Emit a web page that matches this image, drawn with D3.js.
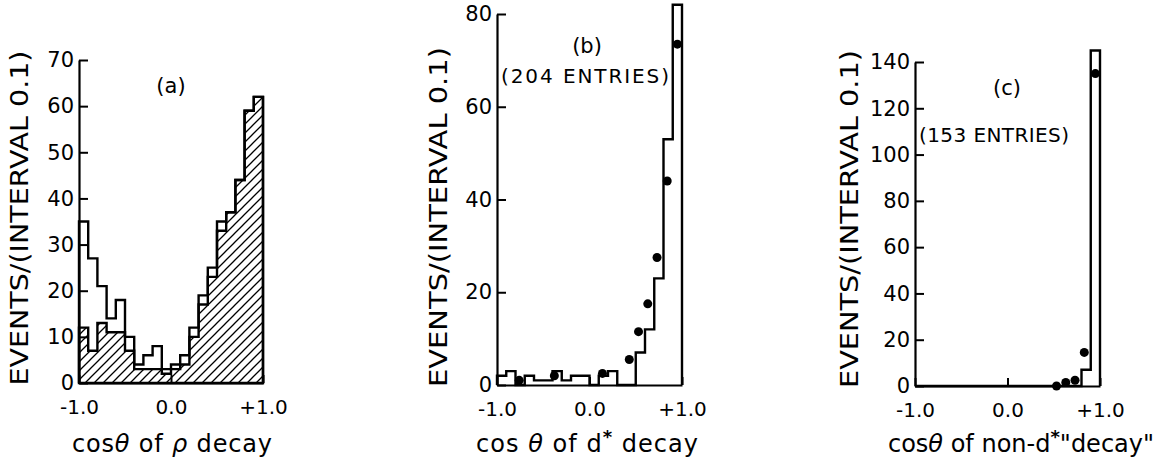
<!DOCTYPE html>
<html>
<head>
<meta charset="utf-8">
<script src="https://cdn.jsdelivr.net/npm/d3@7"></script>
<style>
  body { margin: 0; background: #fff; }
  svg { display: block; }
  text { font-family: "DejaVu Sans", sans-serif; fill: #000; }
</style>
</head>
<body>
<svg id="chart" width="1173" height="458"></svg>
<script>
// bin lower edges, width 0.1
const binLo = [-1.0, -0.9, -0.8, -0.7, -0.6, -0.5, -0.4, -0.3, -0.2, -0.1,
               0.0, 0.1, 0.2, 0.3, 0.4, 0.5, 0.6, 0.7, 0.8, 0.9];

// (a) rho decay: all events and hatched subset
const rhoAll     = [35, 27, 21, 14, 18, 10, 4, 6, 8, 3, 4, 6, 12, 19, 25, 35, 37, 44, 59, 62];
const rhoHatched = [12, 7, 13, 11, 11, 7, 3, 3, 3, 2, 3, 4, 10, 17, 23, 33, 37, 44, 59, 62];

// (b) d* decay
const dstarHist = [2, 3, 0, 2, 1, 1, 3, 1, 2, 2, 0, 2, 3, 0, 0, 7, 12, 23, 53, 82];
const dstarDotsX = [-0.76, -0.38, 0.14, 0.43, 0.53, 0.63, 0.73, 0.84, 0.95];
const dstarDotsY = [1, 2, 2.5, 5.5, 11.5, 17.5, 27.5, 44, 73.5];

// (c) non-d* "decay"
const nonHist = [0, 0, 0, 0, 0, 0, 0, 0, 0, 0, 0, 0, 0, 0, 0, 0, 0, 0, 7, 145];
const nonDotsX = [0.53, 0.63, 0.73, 0.83, 0.95];
const nonDotsY = [0, 1.5, 2.5, 14.5, 135];

const xTicks = [-1, 0, 1];
const xTickLabels = ['-1.0', '0.0', '+1.0'];
const yLabel = 'EVENTS/(INTERVAL 0.1)';

const svg = d3.select('#chart');

// hatch pattern for panel (a)
svg.append('defs').append('pattern')
    .attr('id', 'hatch')
    .attr('patternUnits', 'userSpaceOnUse')
    .attr('width', 9).attr('height', 9)
    .append('path')
    .attr('d', 'M-2,2 L2,-2 M0,9 L9,0 M7,11 L11,7')
    .attr('stroke', '#000')
    .attr('stroke-width', 1.3);

function stepPoints(values) {
    const pts = [[-1, 0]];
    values.forEach((v, i) => pts.push([binLo[i], v]));
    pts.push([1, values[values.length - 1]]);
    pts.push([1, 0]);
    return pts;
}

function drawPanel(opt) {
    const x = d3.scaleLinear().domain([-1, 1]).range([opt.left, opt.right]);
    const y = d3.scaleLinear().domain([0, opt.yMax]).range([opt.bottom, opt.top]);
    const g = svg.append('g');

    // hatched area
    if (opt.hatched) {
        const area = d3.area()
            .x(d => x(d[0])).y0(y(0)).y1(d => y(d[1]))
            .curve(d3.curveStepAfter);
        g.append('path')
            .attr('d', area(stepPoints(opt.hatched)))
            .attr('fill', 'url(#hatch)')
            .attr('stroke', '#000')
            .attr('stroke-width', 2.4);
    }

    const line = d3.line()
        .x(d => x(d[0])).y(d => y(d[1]))
        .curve(d3.curveStepAfter);
    g.append('path')
        .attr('d', line(stepPoints(opt.hist)))
        .attr('fill', 'none')
        .attr('stroke', '#000')
        .attr('stroke-width', 2.4);

    // axes
    const yAxis = d3.axisLeft(y)
        .tickValues(d3.range(0, opt.yMax + 1, opt.yStep))
        .tickSizeInner(-9).tickSizeOuter(0).tickPadding(5);
    const ya = g.append('g').attr('transform', `translate(${opt.left},0)`).call(yAxis);
    ya.selectAll('text').attr('font-size', 21).attr('font-family', 'DejaVu Sans');

    const xAxis = d3.axisBottom(x)
        .tickValues(xTicks)
        .tickFormat((d, i) => xTickLabels[i])
        .tickSizeInner(-8).tickSizeOuter(0).tickPadding(17);
    const xa = g.append('g').attr('transform', `translate(0,${opt.bottom})`).call(xAxis);
    xa.selectAll('text').attr('font-size', 20).attr('font-family', 'DejaVu Sans');

    svg.selectAll('.domain').attr('stroke-width', 2.2);
    svg.selectAll('.tick line').attr('stroke-width', 2);

    // dots
    if (opt.dotsX) {
        g.selectAll('circle')
            .data(opt.dotsX.map((d, i) => [d, opt.dotsY[i]]))
            .enter().append('circle')
            .attr('cx', d => x(d[0]))
            .attr('cy', d => y(d[1]))
            .attr('r', 4.5)
            .attr('fill', '#000');
    }

    // rotated y label
    g.append('text')
        .attr('transform', `translate(${opt.yLabelX},${opt.yLabelMid}) rotate(-90)`)
        .attr('text-anchor', 'middle')
        .attr('dy', '0.36em')
        .attr('font-size', 25)
        .attr('textLength', opt.yLabelLen)
        .attr('lengthAdjust', 'spacingAndGlyphs')
        .text(yLabel);

    // panel letter and entries
    g.append('text')
        .attr('x', opt.tagX).attr('y', opt.tagY)
        .attr('text-anchor', 'middle')
        .attr('font-size', 21)
        .text(opt.tag);
    if (opt.entries) {
        g.append('text')
            .attr('x', opt.entriesX).attr('y', opt.entriesY)
            .attr('text-anchor', 'middle')
            .attr('font-size', 20)
            .attr('textLength', opt.entriesLen)
            .attr('lengthAdjust', 'spacing')
            .text(opt.entries);
    }

    // x title
    const t = g.append('text')
        .attr('x', opt.titleX).attr('y', 452)
        .attr('text-anchor', 'middle')
        .attr('font-size', 24);
    if (opt.titleLen) t.attr('textLength', opt.titleLen).attr('lengthAdjust', 'spacing');
    opt.title(t);
}

drawPanel({
    left: 79, right: 263, top: 60, bottom: 383, yMax: 70, yStep: 10,
    hist: rhoAll, hatched: rhoHatched,
    yLabelX: 19, yLabelMid: 218, yLabelLen: 335,
    tag: '(a)', tagX: 171, tagY: 93,
    titleX: 172, titleLen: 200,
    title: t => {
        t.append('tspan').text('cos');
        t.append('tspan').attr('font-style', 'italic').text('θ');
        t.append('tspan').text(' of ');
        t.append('tspan').attr('font-style', 'italic').text('ρ');
        t.append('tspan').text(' decay');
    }
});

drawPanel({
    left: 497, right: 682, top: 14, bottom: 385, yMax: 80, yStep: 20,
    hist: dstarHist, dotsX: dstarDotsX, dotsY: dstarDotsY,
    yLabelX: 438, yLabelMid: 217, yLabelLen: 340,
    tag: '(b)', tagX: 587, tagY: 53,
    entries: '(204 ENTRIES)', entriesX: 585, entriesY: 83, entriesLen: 168,
    titleX: 587, titleLen: 222,
    title: t => {
        t.append('tspan').text('cos ');
        t.append('tspan').attr('font-style', 'italic').text('θ');
        t.append('tspan').text(' of d');
        t.append('tspan').attr('dy', -9).attr('font-size', 18).attr('font-weight', 'bold').text('*');
        t.append('tspan').attr('dy', 9).text(' decay');
    }
});

drawPanel({
    left: 915, right: 1100, top: 62, bottom: 386, yMax: 140, yStep: 20,
    hist: nonHist, dotsX: nonDotsX, dotsY: nonDotsY,
    yLabelX: 849, yLabelMid: 219, yLabelLen: 338,
    tag: '(c)', tagX: 1007, tagY: 95,
    entries: '(153 ENTRIES)', entriesX: 994, entriesY: 142, entriesLen: 150,
    titleX: 1021,
    title: t => {
        t.append('tspan').text('cos');
        t.append('tspan').attr('font-style', 'italic').text('θ');
        t.append('tspan').text(' of non-d');
        t.append('tspan').attr('dy', -9).attr('font-size', 18).attr('font-weight', 'bold').text('*');
        t.append('tspan').attr('dy', 9).text('"decay"');
    }
});
</script>
</body>
</html>
